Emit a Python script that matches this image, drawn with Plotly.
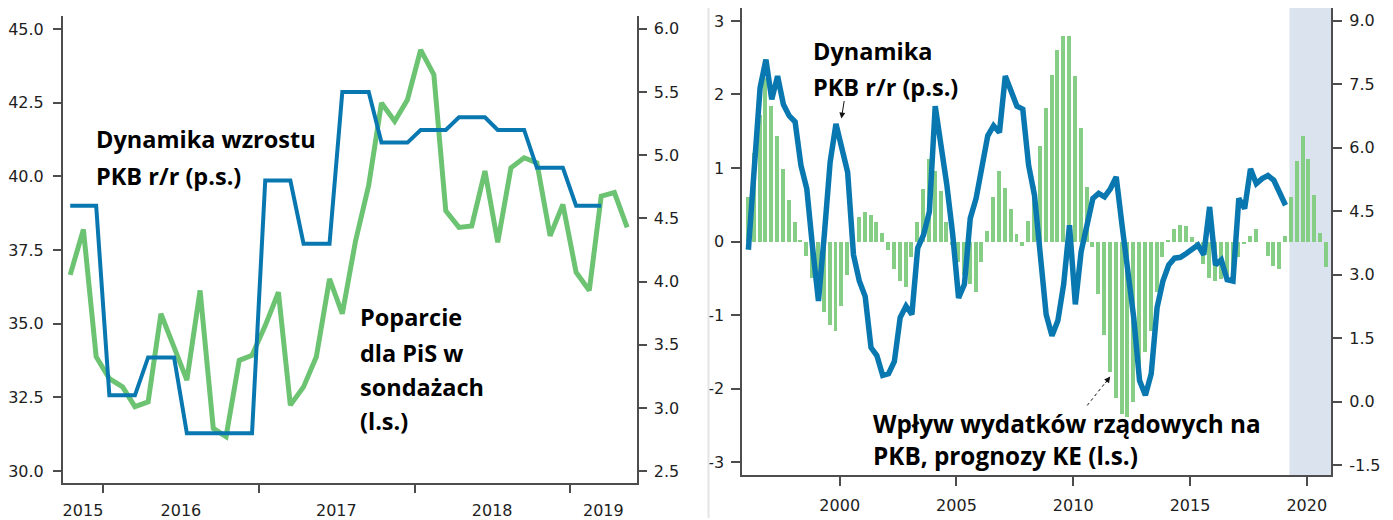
import plotly.graph_objects as go
import pandas as pd

# The page body has an 8px margin, so the figure is sized to fit inside it.
W, H = 1385, 512
OFF = 8

# ---------------- Left panel data (monthly, Oct 2015 - May 2019) ----------------
months = pd.date_range("2015-10-01", periods=44, freq="MS") + pd.Timedelta(days=14)
pis_support = [36.66, 38.2, 33.88, 33.14, 32.86, 32.19, 32.35, 35.34, 34.2, 33.09,
               36.13, 31.45, 31.17, 33.76, 33.93, 34.94, 36.07, 32.24, 32.86, 33.88,
               36.52, 35.34, 37.8, 39.7, 42.49, 41.87, 42.6, 44.29, 43.45, 38.83,
               38.27, 38.32, 40.18, 37.76, 40.29, 40.63, 40.46, 37.98, 39.05, 36.75,
               36.13, 39.33, 39.45, 38.27]
gdp_growth_monthly = [4.6, 4.6, 4.6, 3.1, 3.1, 3.1, 3.4, 3.4, 3.4, 2.8,
                      2.8, 2.8, 2.8, 2.8, 2.8, 4.8, 4.8, 4.8, 4.3, 4.3,
                      4.3, 5.5, 5.5, 5.5, 5.1, 5.1, 5.1, 5.2, 5.2, 5.2,
                      5.3, 5.3, 5.3, 5.2, 5.2, 5.2, 4.9, 4.9, 4.9, 4.6,
                      4.6, 4.6]
left_year_labels = ["2015", "2016", "2017", "2018", "2019"]
left_label_dates = ["2015-11-14", "2016-07-01", "2017-07-01", "2018-07-02", "2019-03-20"]
left_year_bounds = ["2016-01-01", "2017-01-01", "2018-01-01", "2019-01-01"]
left_ticks_l = [30.0, 32.5, 35.0, 37.5, 40.0, 42.5, 45.0]
left_ticks_r = [2.5, 3.0, 3.5, 4.0, 4.5, 5.0, 5.5, 6.0]

# ---------------- Right panel data (quarterly) ----------------
quarters = [f"{y}Q{q}" for y in range(1996, 2021) for q in range(1, 5)]
gov_impact = [0.60, 1.20, 1.72, 2.22, 1.84, 1.43, 0.99, 0.56, 0.27, 0.02,
              -0.20, -0.50, -0.75, -0.96, -1.14, -1.21, -0.87, -0.46, 0.05, 0.33,
              0.40, 0.36, 0.26, 0.12, -0.12, -0.37, -0.53, -0.62, -0.21, 0.26,
              0.71, 1.12, 0.96, 0.69, 0.26, -0.05, -0.28, -0.45, -0.58, -0.68,
              -0.28, 0.15, 0.60, 0.96, 0.73, 0.44, 0.10, -0.06, 0.28, 0.75,
              1.30, 1.81, 2.27, 2.60, 2.79, 2.79, 2.25, 1.55, 0.74, -0.07,
              -0.71, -1.27, -1.77, -2.13, -2.34, -2.38, -2.18, -1.73, -1.50, -1.21,
              -0.69, -0.21, 0.02, 0.17, 0.22, 0.21, 0.06, -0.10, -0.30, -0.49,
              -0.53, -0.51, -0.46, -0.45, -0.21, -0.03, 0.07, 0.17, 0.00, -0.19,
              -0.33, -0.37, 0.08, 0.60, 1.10, 1.43, 1.12, 0.64, 0.12, -0.35]
gdp_yy = [3.59, 5.50, 7.41, 8.08, 7.14, 7.69, 7.02, 6.75, 6.61, 5.58,
          5.03, 3.63, 2.38, 3.94, 5.66, 6.56, 5.97, 5.42, 3.47, 2.85,
          2.49, 1.28, 1.09, 0.62, 0.66, 0.95, 1.99, 2.26, 2.06, 3.63,
          3.94, 4.49, 6.98, 6.05, 5.11, 3.94, 2.45, 2.77, 4.33, 4.80,
          5.50, 6.28, 6.52, 6.36, 7.69, 7.30, 6.98, 6.91, 5.58, 4.88,
          3.55, 2.06, 1.56, 1.91, 2.77, 4.17, 2.30, 3.55, 4.17, 4.80,
          4.92, 4.84, 5.03, 5.31, 4.17, 3.00, 1.99, 0.50, 0.15, 0.66,
          2.22, 2.85, 3.23, 3.39, 3.41, 3.50, 3.59, 3.70, 3.47, 4.60,
          3.23, 3.35, 2.88, 2.85, 4.80, 4.56, 5.50, 5.15, 5.27, 5.34,
          5.23, 4.92, 4.64]
forecast_start = 2019.26
right_ticks_l = [-3, -2, -1, 0, 1, 2, 3]
right_ticktext_l = ["-3", "-2", "-1", "0", "1", "2", "3"]
right_ticks_r = [-1.5, 0.0, 1.5, 3.0, 4.5, 6.0, 7.5, 9.0]
right_ticktext_r = ["-1.5", "0.0", "1.5", "3.0", "4.5", "6.0", "7.5", "9.0"]
right_years = [2000, 2005, 2010, 2015, 2020]


def qpos(label):
    y, q = label.split("Q")
    return int(y) + (int(q) - 1) / 4 + 0.09


xq = [qpos(q) for q in quarters]

GREEN_LINE = "#6cc372"
GREEN_BAR = "#86cd86"
BLUE = "#0a78b0"
AXIS = "#4d4d4d"
TICKFONT = dict(family="DejaVu Sans", size=16, color="#1e1e1e")


def px(x):
    return (x - OFF) / W


def py(y):
    return 1 - (y - OFF) / H


fig = go.Figure()

fig.add_trace(go.Scatter(x=months, y=pis_support, mode="lines",
                         line=dict(color=GREEN_LINE, width=5), xaxis="x", yaxis="y",
                         showlegend=False))
fig.add_trace(go.Scatter(x=months[:len(gdp_growth_monthly)], y=gdp_growth_monthly, mode="lines",
                         line=dict(color=BLUE, width=4), xaxis="x", yaxis="y2",
                         showlegend=False))

fig.add_trace(go.Bar(x=xq, y=gov_impact, marker=dict(color=GREEN_BAR, line=dict(width=0)),
                     width=0.17, xaxis="x3", yaxis="y3", showlegend=False))
fig.add_trace(go.Scatter(x=xq[:len(gdp_yy)], y=gdp_yy, mode="lines",
                         line=dict(color=BLUE, width=5.5), xaxis="x3", yaxis="y4",
                         showlegend=False))

common_axis = dict(showgrid=False, zeroline=False, showline=True, linecolor=AXIS,
                   linewidth=2, tickfont=TICKFONT, fixedrange=True)

fig.update_layout(
    width=W, height=H, autosize=False,
    margin=dict(l=0, r=0, t=0, b=0),
    paper_bgcolor="white", plot_bgcolor="white",
    bargap=0,
    xaxis=dict(domain=[px(62), px(636)], anchor="y", type="date",
               range=["2015-09-28", "2019-06-06"],
               tickmode="array", tickvals=left_label_dates, ticktext=left_year_labels,
               ticks="outside", ticklen=12, tickcolor="rgba(0,0,0,0)",
               minor=dict(tickmode="array", tickvals=left_year_bounds, ticks="outside",
                          ticklen=8, tickwidth=2, tickcolor=AXIS),
               **common_axis),
    yaxis=dict(domain=[py(485), py(16)], anchor="x", range=[29.595, 45.44],
               tickmode="array", tickvals=left_ticks_l, tickformat=".1f",
               ticks="outside", ticklen=8, tickwidth=2, tickcolor=AXIS,
               ticklabelstandoff=6,
               **common_axis),
    yaxis2=dict(overlaying="y", side="right", anchor="x", range=[2.405, 6.102],
                tickmode="array", tickvals=left_ticks_r, tickformat=".1f",
                ticks="outside", ticklen=8, tickwidth=2, tickcolor=AXIS,
                ticklabelstandoff=4,
                **common_axis),
    xaxis3=dict(domain=[px(742), px(1331)], anchor="y3", range=[1995.836, 2021.04],
                tickmode="array", tickvals=right_years,
                ticks="outside", ticklen=9, tickwidth=2, tickcolor=AXIS,
                ticklabelstandoff=6,
                **common_axis),
    yaxis3=dict(domain=[py(477), py(8)], anchor="x3", range=[-3.176, 3.176],
                tickmode="array", tickvals=right_ticks_l, ticktext=right_ticktext_l,
                ticks="outside", ticklen=9, tickwidth=2, tickcolor=AXIS,
                ticklabelstandoff=4,
                **common_axis),
    yaxis4=dict(overlaying="y3", side="right", anchor="x3", range=[-1.735, 9.299],
                tickmode="array", tickvals=right_ticks_r, ticktext=right_ticktext_r,
                ticks="outside", ticklen=9, tickwidth=2, tickcolor=AXIS,
                ticklabelstandoff=4,
                **common_axis),
)

# forecast shading
fig.add_shape(type="rect", xref="x3", yref="y3 domain", x0=forecast_start, x1=2021.04,
              y0=0, y1=1, fillcolor="#dbe3ef", line=dict(width=0), layer="below")

# faint border line between the two source charts
fig.add_shape(type="line", xref="paper", yref="paper", x0=px(708), x1=px(708),
              y0=0, y1=1, line=dict(color="#e4e4e4", width=2))

LABEL_FONT = dict(family="Open Sans", size=23.5, color="#000000", weight="bold")
LABEL_FONT_WIDE = dict(family="Open Sans", size=24.3, color="#000000", weight="bold")
labels = [
    ("Dynamika wzrostu", 93, 140, LABEL_FONT),
    ("PKB r/r (p.s.)", 93, 177, LABEL_FONT),
    ("Poparcie", 357, 318, LABEL_FONT),
    ("dla PiS w", 357, 354, LABEL_FONT),
    ("sondażach", 357, 388, LABEL_FONT),
    ("(l.s.)", 357, 423, LABEL_FONT),
    ("Dynamika", 811, 51, LABEL_FONT),
    ("PKB r/r (p.s.)", 811, 87, LABEL_FONT),
    ("Wpływ wydatków rządowych na", 871, 425, LABEL_FONT_WIDE),
    ("PKB, prognozy KE (l.s.)", 871, 457, LABEL_FONT_WIDE),
]
for text, x, y, f in labels:
    fig.add_annotation(text=text, x=px(x), y=py(y), xref="paper", yref="paper",
                       xanchor="left", yanchor="middle", showarrow=False, font=f)

# hand-drawn style arrow pointing at the GDP peak
fig.add_annotation(x=px(841), y=py(119), xref="paper", yref="paper", ax=3, ay=-19,
                   showarrow=True, arrowhead=2, arrowwidth=1, arrowsize=1.2,
                   arrowcolor="#111111", text="")
# dotted arrow pointing at the bars
fig.add_shape(type="line", xref="paper", yref="paper", x0=px(1087), y0=py(407),
              x1=px(1106), y1=py(383), line=dict(color="#111111", width=1, dash="dot"))
fig.add_annotation(x=px(1110), y=py(378), xref="paper", yref="paper", ax=-6, ay=8,
                   showarrow=True, arrowhead=2, arrowwidth=1, arrowsize=1.2,
                   arrowcolor="#111111", text="")

fig.write_html("out.html")
